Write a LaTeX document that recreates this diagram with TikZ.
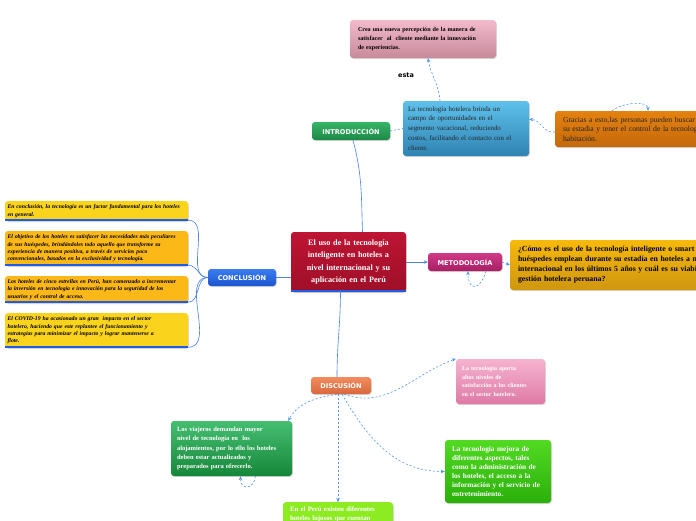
\documentclass[tikz,border=0pt]{standalone}
\usepackage{fontspec}
\setmainfont{Liberation Serif}
\newfontfamily\labfont{DejaVu Sans}
\usetikzlibrary{shadows,arrows.meta}
\definecolor{pinkAt}{HTML}{F2BACB}
\definecolor{pinkAb}{HTML}{C78A9B}
\definecolor{blueAt}{HTML}{5EC0EB}
\definecolor{blueAb}{HTML}{2F83B2}
\definecolor{orRt}{HTML}{E5820F}
\definecolor{orRb}{HTML}{C4680A}
\definecolor{introt}{HTML}{35B566}
\definecolor{introb}{HTML}{1D8946}
\definecolor{centt}{HTML}{BE1533}
\definecolor{centb}{HTML}{9E0F28}
\definecolor{mett}{HTML}{D13A88}
\definecolor{metb}{HTML}{A81E63}
\definecolor{qt}{HTML}{F7B90A}
\definecolor{qb}{HTML}{CF9610}
\definecolor{conct}{HTML}{3A7CF0}
\definecolor{concb}{HTML}{1C55CF}
\definecolor{yelA}{HTML}{FAD31C}
\definecolor{yelB}{HTML}{FBB817}
\definecolor{disct}{HTML}{F28C5E}
\definecolor{discb}{HTML}{D8683E}
\definecolor{pinkBt}{HTML}{F6B3D0}
\definecolor{pinkBb}{HTML}{DE7AA5}
\definecolor{grLt}{HTML}{45BE72}
\definecolor{grLb}{HTML}{168739}
\definecolor{grBt}{HTML}{52DA22}
\definecolor{grBb}{HTML}{2BAF0B}
\definecolor{limeC}{HTML}{8DEB22}
\definecolor{connC}{HTML}{4A84E0}
\definecolor{dconnC}{HTML}{4F95E6}
\definecolor{ulC}{HTML}{1E5BE6}
\tikzset{
  x=1pt, y=-1pt,
  boxbase/.style={rounded corners=3pt, inner ysep=0pt, align=left,
    drop shadow={shadow xshift=0.8pt, shadow yshift=-1pt, opacity=0.3}},
  tag/.style={rounded corners=3pt, inner sep=0pt, text=white,
    font=\labfont\bfseries\fontsize{6.6}{8}\selectfont,
    drop shadow={shadow xshift=0.8pt, shadow yshift=-1pt, opacity=0.3}},
  leftbox/.style={boxbase, text width=178pt, inner xsep=2.5pt, minimum width=183pt,
    font=\bfseries\itshape\fontsize{5.75}{7.3}\selectfont},
  uline/.style={draw=ulC, line width=1.8pt},
  conn/.style={draw=connC, line width=0.6pt},
  dconn/.style={draw=dconnC, line width=0.6pt, dash pattern=on 2pt off 2pt,
    -{Stealth[length=4pt,width=3.5pt]}},
  dline/.style={draw=dconnC, line width=0.6pt, dash pattern=on 2pt off 2pt},
  sarrow/.style={conn, -{Stealth[length=4pt,width=3.5pt]}}
}
\begin{document}
\begin{tikzpicture}
\fill[white] (0,0) rectangle (696,520);
\useasboundingbox (0,0) rectangle (696,520);

% top pink
\node[boxbase, top color=pinkAt, bottom color=pinkAb, text width=130pt, inner xsep=8pt,
  minimum width=146pt, minimum height=38pt, font=\bfseries\fontsize{6.1}{9}\selectfont]
  (pinkA) at (423,39) {Crea una nueva percepción de la manera de\\ satisfacer \ al \ cliente mediante la innovación\\ de experiencias.};
\node[font=\labfont\bfseries\fontsize{6.5}{8}\selectfont] (esta) at (406,75) {esta};

% blue box
\node[boxbase, top color=blueAt, bottom color=blueAb, text width=116pt, inner xsep=5pt,
  minimum width=126pt, minimum height=55pt, font=\fontsize{6.9}{9.9}\selectfont, text=black!85]
  (blueA) at (466,128.5) {La tecnología hotelera brinda un\\ campo de oportunidades en el\\ segmento vacacional, reduciendo\\ costos, facilitando el contacto con el\\ cliente.};

% orange right
\node[boxbase, top color=orRt, bottom color=orRb, text width=176pt, inner xsep=8pt,
  minimum width=192pt, minimum height=36pt, font=\fontsize{7.7}{9.5}\selectfont, text=black!85]
  (orR) at (651,129) {Gracias a esto,las personas pueden buscar\\ su estadia y tener el control de la tecnología\\ habitación.};

% introduccion
\node[tag, top color=introt, bottom color=introb, minimum width=78pt, minimum height=18pt]
  (intro) at (351,131) {INTRODUCCIÓN};

% central
\node[boxbase, top color=centt, bottom color=centb, text width=111pt, inner xsep=2pt,
  minimum width=115pt, minimum height=60pt, align=center, text=white,
  font=\bfseries\fontsize{8.2}{12.6}\selectfont]
  (central) at (348.5,262) {El uso de la tecnología\\ inteligente en hoteles a\\ nivel internacional y su\\ aplicación en el Perú};
\draw[uline] ([yshift=1.2pt]central.south west) -- ([yshift=1.2pt]central.south east);

% metodologia
\node[tag, top color=mett, bottom color=metb, minimum width=74pt, minimum height=18pt]
  (metod) at (465,262) {METODOLOGÍA};

% question
\node[boxbase, top color=qt, bottom color=qb, text width=236pt, inner xsep=8pt,
  minimum width=252pt, minimum height=50pt, font=\bfseries\fontsize{7.8}{10}\selectfont]
  (quest) at (636,265) {¿Cómo es el uso de la tecnología inteligente o smart que los\\ huéspedes emplean durante su estadía en hoteles a nivel\\ internacional en los últimos 5 años y cuál es su viabilidad en la\\ gestión hotelera peruana?};

% conclusion
\node[tag, top color=conct, bottom color=concb, minimum width=68pt, minimum height=17pt]
  (concl) at (242,277.5) {CONCLUSIÓN};

\node[leftbox, fill=yelA, minimum height=20pt] (L1) at (96.5,211)
  {En conclusión, la tecnología es un factor fundamental para los hoteles\\ en general.};
\node[leftbox, fill=yelB, minimum height=35pt] (L2) at (96.5,248.5)
  {El objetivo de los hoteles es satisfacer las necesidades más peculiares\\ de sus huéspedes, brindándoles todo aquello que transforme su\\ experiencia de manera positiva, a través de servicios poco\\ convencionales, basados en la exclusividad y tecnología.};
\node[leftbox, fill=yelB, minimum height=27pt] (L3) at (96.5,289.5)
  {Los hoteles de cinco estrellas en Perú, han comenzado a incrementar\\ la inversión en tecnología e innovación para la seguridad de los\\ usuarios y el control de acceso.};
\node[leftbox, fill=yelA, minimum height=35pt] (L4) at (96.5,330.5)
  {El COVID-19 ha ocasionado un gran \ impacto en el sector\\ hotelero, haciendo que este replantee el funcionamiento y\\ estrategias para minimizar el impacto y lograr mantenerse a\\ flote.};
\foreach \n in {L1,L2,L3,L4}{
  \draw[uline] ([yshift=1pt]\n.south west) -- ([yshift=1pt]\n.south east);
}

% discusion
\node[tag, top color=disct, bottom color=discb, minimum width=60pt, minimum height=17pt]
  (disc) at (341,385.5) {DISCUSIÓN};

\node[boxbase, top color=pinkBt, bottom color=pinkBb, text width=77pt, inner xsep=6pt,
  minimum width=89pt, minimum height=45pt, text=white,
  font=\bfseries\fontsize{6}{8.7}\selectfont]
  (pinkB) at (500.5,381.5) {La tecnología aporta\\ altos niveles de\\ satisfacción a los clientes\\ en el sector hotelero.};

\node[boxbase, top color=grLt, bottom color=grLb, text width=109pt, inner xsep=6pt,
  minimum width=121pt, minimum height=55pt, text=white,
  font=\bfseries\fontsize{6.5}{9.3}\selectfont]
  (grL) at (231.5,448.5) {Los viajeros demandan mayor\\ nivel de tecnología en \ los\\ alojamientos, por lo ello los hoteles\\ deben estar actualizados y\\ preparados para ofrecerlo.};

\node[boxbase, top color=grBt, bottom color=grBb, text width=92pt, inner xsep=7pt,
  minimum width=106pt, minimum height=63pt, text=white,
  font=\bfseries\fontsize{7.3}{9}\selectfont]
  (grB) at (498,471.5) {La tecnología mejora de\\ diferentes aspectos, tales\\ como la administración de\\ los hoteles, el acceso a la\\ información y el servicio de\\ entretenimiento.};

\node[boxbase, fill=limeC, text width=96pt, inner xsep=7pt, inner ysep=5pt,
  minimum width=110pt, anchor=north, text=white,
  font=\bfseries\fontsize{6.8}{9}\selectfont]
  (lime) at (338,502) {En el Perú existen diferentes\\ hoteles lujosos que cuentan};

% connectors
\draw[conn] ([xshift=14pt]central.north) to[out=92,in=-75] ([xshift=2pt]intro.south);
\draw[dline] (intro.east) -- (blueA.west);
\draw[dconn] ([xshift=-26pt]blueA.north) to[out=95,in=-80] ([xshift=5pt]pinkA.south);
\draw[dconn] ([yshift=-3pt]orR.west) to[out=190,in=0] ([yshift=9pt]blueA.east);
\draw[dconn] ([xshift=-39pt]orR.north) .. controls +(12,-9) and +(0,-10) .. ([xshift=-3pt]orR.north);

\draw[sarrow] (central.east) -- (metod.west);
\draw[dconn] (metod.east) -- (quest.west);
\draw[dconn] ([xshift=21pt]metod.south) .. controls +(-6,20) and +(0,20) .. ([xshift=3pt]metod.south);

\draw[conn] (central.west |- concl.east) -- (concl.east);
\foreach \n in {L1,L2,L3,L4}{
  \draw[conn] (concl.west) to[out=180,in=0] ([yshift=1pt]\n.south east);
}

\draw[conn] ([xshift=-8pt,yshift=1.5pt]central.south) to[out=-90,in=90] ([xshift=-4pt]disc.north);
\draw[dconn] ([xshift=3pt]disc.south) to[out=-20,in=200] (pinkB.north west);
\draw[dconn] ([xshift=1pt]disc.south) to[out=-60,in=180] (grB.west);
\draw[dconn] ([xshift=-4pt]disc.south) to[out=190,in=60] ([xshift=-4pt]grL.north east);
\draw[dconn] ([xshift=-3pt]disc.south) -- (lime.north);
\draw[dconn] ([xshift=24pt]grL.south) .. controls +(-2,14) and +(0,14) .. ([xshift=9pt]grL.south);
\end{tikzpicture}
\end{document}
